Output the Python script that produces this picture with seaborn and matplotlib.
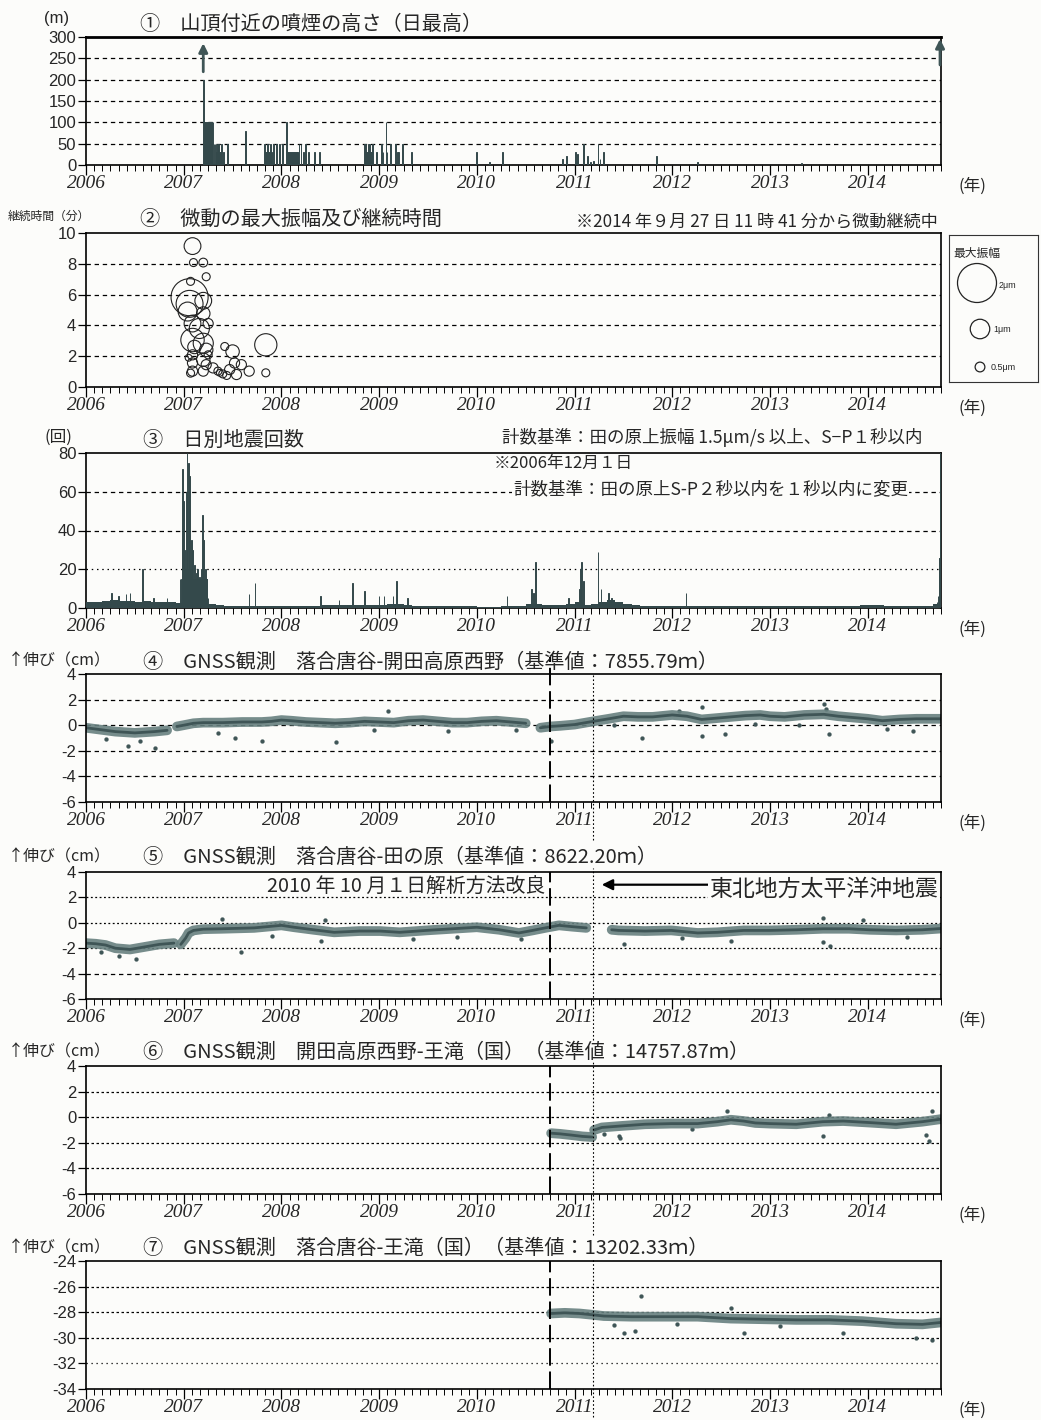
import numpy as np
import pandas as pd
import matplotlib
matplotlib.use("Agg")
import matplotlib.pyplot as plt
import seaborn as sns
from matplotlib.ticker import MultipleLocator

# ---------------------------------------------------------------- data
years = [2006, 2007, 2008, 2009, 2010, 2011, 2012, 2013, 2014]

# (1) daily max plume height (m)
smoke_t = [2007.20, 2007.21, 2007.22, 2007.23, 2007.24, 2007.25, 2007.26, 2007.27, 2007.28, 2007.29, 2007.30,
           2007.31, 2007.32, 2007.33, 2007.34, 2007.35, 2007.36, 2007.37, 2007.38, 2007.39, 2007.41, 2007.45,
           2007.63, 2007.83, 2007.84, 2007.85, 2007.86, 2007.87, 2007.88, 2007.89, 2007.90, 2007.92, 2007.95, 2007.98,
           2008.01, 2008.05, 2008.06, 2008.07, 2008.08, 2008.09, 2008.10, 2008.11, 2008.12, 2008.13, 2008.14, 2008.15,
           2008.16, 2008.17, 2008.18, 2008.20, 2008.23, 2008.25, 2008.28, 2008.34, 2008.39,
           2008.85, 2008.86, 2008.87, 2008.88, 2008.89, 2008.90, 2008.91, 2008.92, 2008.93, 2008.97,
           2009.02, 2009.04, 2009.07, 2009.08, 2009.12, 2009.17, 2009.19, 2009.20, 2009.24, 2009.33,
           2010.00, 2010.13, 2010.26,
           2010.88, 2010.92, 2011.01, 2011.03, 2011.09, 2011.13, 2011.16, 2011.19, 2011.24, 2011.26, 2011.30,
           2011.84, 2012.26, 2013.32]
smoke_h = [200, 100, 100, 100, 100, 100, 100, 100, 100, 100, 100,
           50, 50, 50, 30, 50, 50, 30, 30, 50, 30, 50,
           80, 50, 30, 30, 50, 30, 30, 50, 30, 50, 50, 50,
           50, 100, 30, 30, 30, 30, 30, 30, 30, 30, 30, 30,
           30, 30, 50, 50, 30, 50, 30, 30, 30,
           50, 50, 30, 30, 50, 50, 30, 30, 50, 30,
           50, 30, 100, 30, 50, 50, 30, 30, 50, 30,
           30, 8, 30,
           15, 20, 30, 25, 50, 20, 8, 10, 50, 15, 30,
           20, 7, 5]
smoke_over_t = [2007.20, 2014.74]   # plume above the scale

# (2) tremor: time, duration (min), max amplitude (um)
trem_t = [2007.09, 2007.10, 2007.20, 2007.23, 2007.07, 2007.06, 2007.06, 2007.20, 2007.20, 2007.04,
          2007.09, 2007.25, 2007.16, 2007.09, 2007.20, 2007.11, 2007.23, 2007.09, 2007.25, 2007.20,
          2007.09, 2007.23, 2007.09, 2007.20, 2007.30, 2007.35, 2007.37, 2007.42, 2007.50, 2007.52,
          2007.47, 2007.54, 2007.59, 2007.67, 2007.84, 2007.84, 2007.05, 2007.07, 2007.40, 2007.44]
trem_dur = [9.15, 8.08, 8.08, 7.16, 6.86, 5.83, 5.40, 5.60, 4.77, 4.90,
            4.12, 4.12, 3.80, 3.05, 2.84, 2.60, 2.41, 2.09, 2.09, 1.77,
            1.56, 1.45, 1.03, 1.03, 1.24, 1.03, 0.92, 2.63, 2.30, 1.56,
            1.13, 0.81, 1.45, 1.03, 2.74, 0.92, 1.90, 0.90, 0.85, 0.75]
trem_amp = [0.86, 0.41, 0.45, 0.41, 0.41, 1.90, 1.38, 0.86, 0.69, 0.97,
            0.86, 0.52, 1.03, 1.20, 1.03, 0.69, 0.69, 0.52, 0.41, 0.69,
            0.52, 0.52, 0.52, 0.52, 0.52, 0.41, 0.35, 0.41, 0.69, 0.52,
            0.52, 0.52, 0.52, 0.52, 1.14, 0.41, 0.35, 0.41, 0.41, 0.41]
leg_amp = [2, 1, 0.5]
leg_lbl = ["2μm", "1μm", "0.5μm"]

# (3) daily earthquake counts: monthly background level + individual peaks
eq_base = [3, 3, 3.5, 4, 3.5, 3.5, 3, 3.5, 3, 3, 3, 2.5,
           20, 15, 15, 2, 1.5, 1, 1, 1, 1, 1, 1, 1,
           1, 1, 1, 1, 1, 1.5, 1.5, 1.5, 1.5, 1.5, 1.5, 1.5,
           1.5, 2, 2, 1.5, 1, 1, 1, 1, 1, 1, 1, 1,
           0.5, 0.5, 0.5, 1, 1, 1, 2, 2, 1.5, 1.5, 1.5, 2,
           3, 1.5, 2, 3, 4, 3, 2, 1.5, 1, 1, 1, 1,
           1, 1, 1, 1, 1, 1, 1, 1, 1, 1, 1, 1,
           1, 1, 1, 1, 1, 1, 1, 1, 1, 1, 1, 1.5,
           1.5, 1.5, 1, 1, 1, 1, 1, 1, 2]
eq_t = [2006.26, 2006.33, 2006.41, 2006.45, 2006.58, 2006.69, 2006.83,
        2006.96, 2006.98, 2006.99, 2007.00, 2007.01, 2007.03, 2007.035, 2007.05, 2007.06, 2007.08, 2007.09,
        2007.11, 2007.13, 2007.14, 2007.16, 2007.18, 2007.19, 2007.20, 2007.22, 2007.23, 2007.25,
        2007.67, 2007.73, 2008.40, 2008.59, 2008.73, 2008.85, 2009.00, 2009.05, 2009.14, 2009.18, 2009.29, 2010.31,
        2010.56, 2010.58, 2010.60, 2010.94, 2011.05, 2011.06, 2011.07, 2011.09, 2011.24, 2011.27, 2011.35,
        2011.38, 2012.14,
        2014.71, 2014.72, 2014.73, 2014.735, 2014.74]
eq_n = [8, 6, 7, 8, 20, 5, 5,
        15, 15, 72, 55, 30, 60, 80, 75, 68, 35, 30,
        22, 18, 20, 16, 20, 48, 35, 20, 12, 5,
        7, 13, 6, 4, 13, 9, 6, 6, 6, 14, 5, 6,
        10, 8, 24, 5, 10, 20, 24, 14, 29, 10, 8,
        5, 8,
        3, 6, 26, 26, 85]

# (4)-(7) GNSS baseline changes (cm), NaN = data gap
g4_t = [2006.00, 2006.10, 2006.20, 2006.30, 2006.40, 2006.50, 2006.60, 2006.70, 2006.83, 2006.88,
        2006.93, 2007.00, 2007.10, 2007.20, 2007.40, 2007.60, 2007.80, 2007.90, 2008.00, 2008.10,
        2008.25, 2008.40, 2008.55, 2008.70, 2008.85, 2009.00, 2009.15, 2009.30, 2009.45, 2009.60,
        2009.75, 2009.90, 2010.05, 2010.20, 2010.35, 2010.50, 2010.57, 2010.65, 2010.75, 2010.85,
        2011.00, 2011.19, 2011.35, 2011.50, 2011.65, 2011.80, 2012.00, 2012.15, 2012.30, 2012.45,
        2012.60, 2012.75, 2012.90, 2013.00, 2013.15, 2013.35, 2013.55, 2013.70, 2013.85, 2014.00,
        2014.15, 2014.33, 2014.50, 2014.63, 2014.75]
g4_v = [-0.2, -0.3, -0.4, -0.5, -0.55, -0.6, -0.55, -0.5, -0.4, np.nan,
        -0.1, 0.0, 0.15, 0.2, 0.2, 0.25, 0.25, 0.3, 0.4, 0.35,
        0.25, 0.2, 0.15, 0.2, 0.3, 0.25, 0.2, 0.35, 0.4, 0.3,
        0.2, 0.2, 0.3, 0.35, 0.25, 0.15, np.nan, -0.2, -0.1, -0.05,
        0.05, 0.3, 0.5, 0.7, 0.65, 0.65, 0.8, 0.7, 0.45, 0.55,
        0.65, 0.75, 0.8, 0.7, 0.65, 0.8, 0.85, 0.7, 0.6, 0.5,
        0.35, 0.45, 0.5, 0.5, 0.5]
g4_out_t = [2006.20, 2006.43, 2006.71, 2007.52, 2007.80, 2008.56, 2009.09, 2010.76, 2011.69, 2012.07,
            2012.30, 2012.30, 2012.54, 2013.55, 2013.57, 2013.60, 2014.46, 2006.55, 2007.35, 2008.95,
            2009.70, 2010.40, 2011.40, 2012.85, 2013.30, 2014.20]
g4_out_v = [-1.1, -1.6, -1.75, -1.0, -1.25, -1.35, 1.1, -1.25, -1.0, 1.1,
            1.4, -0.85, -0.7, 1.65, 1.25, -0.7, -0.45, -1.2, -0.6, -0.4,
            -0.45, -0.35, 0.0, 0.1, 0.05, -0.3]

g5_t = [2006.00, 2006.10, 2006.20, 2006.30, 2006.45, 2006.60, 2006.75, 2006.90, 2006.94, 2006.97,
        2007.02, 2007.05, 2007.10, 2007.20, 2007.39, 2007.72, 2008.00, 2008.13, 2008.33, 2008.54,
        2008.80, 2009.01, 2009.21, 2009.48, 2009.75, 2010.00, 2010.23, 2010.43, 2010.57, 2010.70,
        2010.84, 2010.97, 2011.12, 2011.20, 2011.38, 2011.45, 2011.72, 2011.99, 2012.26, 2012.46,
        2012.73, 2013.00, 2013.27, 2013.54, 2013.81, 2014.02, 2014.29, 2014.56, 2014.75]
g5_v = [-1.6, -1.65, -1.75, -2.0, -2.1, -1.9, -1.7, -1.6, np.nan, -1.7,
        -1.2, -0.8, -0.6, -0.5, -0.47, -0.4, -0.2, -0.35, -0.55, -0.75,
        -0.65, -0.65, -0.75, -0.6, -0.47, -0.35, -0.55, -0.8, -0.6, -0.4,
        -0.2, -0.3, -0.4, np.nan, -0.55, -0.6, -0.65, -0.6, -0.8, -0.75,
        -0.6, -0.6, -0.55, -0.47, -0.47, -0.55, -0.6, -0.55, -0.45]
g5_out_t = [2006.34, 2006.51, 2007.39, 2007.59, 2008.40, 2008.45, 2009.35, 2011.51, 2012.60, 2013.54,
            2013.61, 2013.54, 2013.95, 2006.15, 2007.90, 2009.80, 2010.45, 2012.10, 2014.40]
g5_out_v = [-2.6, -2.85, 0.3, -2.3, -1.4, 0.25, -1.25, -1.65, -1.4, -1.5,
            -1.8, 0.4, 0.2, -2.3, -1.0, -1.1, -1.3, -1.2, -1.1]

g6_t = [2010.76, 2010.85, 2010.97, 2011.08, 2011.18, 2011.19, 2011.20, 2011.28, 2011.45, 2011.72,
        2011.99, 2012.26, 2012.46, 2012.60, 2012.73, 2012.85, 2013.00, 2013.27, 2013.54, 2013.75,
        2014.02, 2014.29, 2014.56, 2014.75]
g6_v = [-1.25, -1.3, -1.4, -1.5, -1.55, np.nan, -1.0, -0.8, -0.7, -0.55,
        -0.5, -0.5, -0.35, -0.2, -0.3, -0.45, -0.5, -0.55, -0.35, -0.3,
        -0.42, -0.55, -0.35, -0.15]
g6_out_t = [2011.45, 2011.47, 2012.56, 2013.54, 2014.60, 2014.63, 2014.66, 2011.30, 2012.20, 2013.60]
g6_out_v = [-1.5, -1.65, 0.45, -1.5, -1.4, -1.85, 0.45, -1.3, -0.95, 0.2]

g7_t = [2010.76, 2010.90, 2011.05, 2011.18, 2011.30, 2011.58, 2011.92, 2012.26, 2012.60, 2012.94,
        2013.27, 2013.61, 2013.95, 2014.29, 2014.56, 2014.75]
g7_v = [-28.1, -28.05, -28.1, -28.2, -28.3, -28.35, -28.35, -28.35, -28.5, -28.55,
        -28.6, -28.6, -28.7, -28.9, -28.95, -28.8]
g7_out_t = [2011.68, 2011.51, 2011.62, 2012.60, 2012.73, 2013.75, 2014.49, 2014.66, 2011.40, 2012.05, 2013.10]
g7_out_v = [-26.75, -29.6, -29.5, -27.7, -29.6, -29.6, -30.0, -30.15, -29.0, -28.9, -29.1]

analysis_change = 2010.75   # 2010-10-01
tohoku_eq = 2011.19         # 2011-03-11

# ---------------------------------------------------------------- style
sns.set_theme(style="ticks")
plt.rcParams["font.family"] = ["Liberation Sans", "Noto Sans CJK JP", "DejaVu Sans"]
plt.rcParams["axes.unicode_minus"] = False
JP = ["Noto Sans CJK JP", "DejaVu Sans"]
paper = "#fcfcfa"
dark = "#34494b"
gcol = "#67807f"

W, H = 1041, 1420
fig = plt.figure(figsize=(W / 100, H / 100), dpi=100, facecolor=paper)


def px_axes(top, bottom, left=86, right=941):
    return fig.add_axes([left / W, 1 - bottom / H, (right - left) / W, (bottom - top) / H])


def ftext(x, y, s, **kw):
    kw.setdefault("family", JP)
    kw.setdefault("va", "center")
    fig.text(x / W, 1 - y / H, s, **kw)


def style(ax, ylo, yhi, ystep, bottom_px):
    ax.set_facecolor(paper)
    ax.set_xlim(2006.0, 2014.75)
    ax.set_ylim(ylo, yhi)
    ax.set_xticks(years)
    ax.set_xticklabels([str(y) for y in years], family="Liberation Serif",
                       style="italic", fontsize=14)
    ax.xaxis.set_minor_locator(MultipleLocator(1 / 12))
    ax.set_yticks(np.arange(ylo, yhi + 0.001, ystep))
    ax.tick_params(axis="x", which="major", length=7, width=0.9, pad=0, color="black")
    ax.tick_params(axis="x", which="minor", length=4, width=0.7, color="black")
    ax.tick_params(axis="y", length=6, width=0.9, labelsize=12, pad=1, color="black")
    for s in ax.spines.values():
        s.set_linewidth(1.2)
        s.set_color("black")
    ftext(972, bottom_px + 21, "(年)", ha="center", fontsize=12)


def hgrid(ax, vals, ls=(0, (3.5, 3))):
    for v in vals:
        ax.axhline(v, color="black", lw=0.9, ls=ls, zorder=1)


def seg_frame(t, v):
    df = pd.DataFrame({"t": t, "v": v})
    df["seg"] = df["v"].isna().cumsum()
    return df.dropna()


def gnss(ax, t, v, ot, ov):
    df = seg_frame(t, v)
    sns.lineplot(data=df, x="t", y="v", units="seg", estimator=None, color=gcol,
                 lw=7, alpha=0.9, ax=ax, legend=False)
    sns.lineplot(data=df, x="t", y="v", units="seg", estimator=None, color="#3f5556",
                 lw=2, ax=ax, legend=False)
    sns.scatterplot(x=ot, y=ov, s=8, color="#3f5556", edgecolor=None, ax=ax)
    ax.set_xlabel("")
    ax.set_ylabel("")


def events(ax, dash_top=1.0, dot_top=1.03, dot_bot=-0.3):
    ax.axvline(analysis_change, ymin=0, ymax=dash_top, color="black", lw=1.4,
               ls=(0, (9, 3)), clip_on=False, zorder=5)
    ax.axvline(tohoku_eq, ymin=dot_bot, ymax=dot_top, color="black", lw=0.8,
               ls=(0, (1.5, 2)), clip_on=False, zorder=5)


TITLE = 14.5

# ---------------------------------------------------------------- (1)
ax1 = px_axes(37, 165)
style(ax1, 0, 300, 50, 165)
hgrid(ax1, [50, 100, 150, 200, 250])
ax1.bar(smoke_t, smoke_h, width=0.009, color=dark, edgecolor=dark, lw=0.7, zorder=3)
for t in smoke_over_t:
    base = 212 if t < 2010 else 228
    ax1.annotate("", xy=(t, 292 if t < 2010 else 302), xytext=(t, base),
                 arrowprops=dict(arrowstyle="-|>", color="#3f5556", lw=2, mutation_scale=13),
                 annotation_clip=False, zorder=6)
ax1.spines["top"].set_linewidth(2)
ftext(57, 18, "(m)", ha="center", fontsize=12, family=["Liberation Sans"])
ftext(140, 25, "①　山頂付近の噴煙の高さ（日最高）", fontsize=TITLE)

# ---------------------------------------------------------------- (2)
ax2 = px_axes(233, 387)
style(ax2, 0, 10, 2, 387)
hgrid(ax2, [2, 4, 6, 8])
ax2.scatter(trem_t, trem_dur, s=(14.04 * np.array(trem_amp)) ** 2, facecolors="none",
            edgecolors="#222222", linewidths=0.8, zorder=4, clip_on=False)
ftext(8, 216, "継続時間（分）", ha="left", fontsize=8.5)
ftext(140, 219, "②　微動の最大振幅及び継続時間", fontsize=TITLE)
ftext(938, 221, "※2014 年９月 27 日 11 時 41 分から微動継続中", ha="right", fontsize=12.3)

lax = px_axes(235, 382, 949, 1038)
lax.set_facecolor(paper)
lax.set_xlim(0, 89)
lax.set_ylim(147, 0)
lax.set_xticks([])
lax.set_yticks([])
for s in lax.spines.values():
    s.set_linewidth(0.8)
    s.set_color("#333333")
lax.scatter([28, 31, 31], [48, 94, 132], s=(14.04 * np.array(leg_amp)) ** 2,
            facecolors="none", edgecolors="#222222", linewidths=0.9)
lax.text(4, 18, "最大振幅", family=JP, fontsize=8.5, va="center")
for yy, xx, lb in zip([50, 95, 133], [50, 44, 42], leg_lbl):
    lax.text(xx, yy, lb, fontsize=6.5, va="center", family=["Liberation Sans"])

# ---------------------------------------------------------------- (3)
ax3 = px_axes(453, 608)
style(ax3, 0, 80, 20, 608)
hgrid(ax3, [40, 60])
hgrid(ax3, [20], ls=(0, (1.2, 3)))
months = pd.date_range("2006-01-01", periods=len(eq_base), freq="MS")
month_mid = months.year + (months.month - 0.5) / 12
ax3.bar(month_mid, eq_base, width=1 / 12, color=dark, lw=0, zorder=3)
ax3.bar(eq_t, eq_n, width=0.006, color=dark, edgecolor=dark, lw=0.7, zorder=3)
ftext(58, 437, "(回)", ha="center", fontsize=12)
ftext(143, 440, "③　日別地震回数", fontsize=TITLE)
ftext(922, 437, "計数基準：田の原上振幅 1.5μm/s 以上、S−P１秒以内", ha="right", fontsize=12.6)
ax3.text(2010.17, 74.5, "※2006年12月１日", family=JP, fontsize=12, va="center", zorder=6)
ax3.text(2010.37, 61.5, "計数基準：田の原上S-P２秒以内を１秒以内に変更", family=JP, fontsize=12.6,
         va="center", zorder=6,
         bbox=dict(facecolor=paper, edgecolor="none", pad=1))

# ---------------------------------------------------------------- (4)
ax4 = px_axes(674, 802)
style(ax4, -6, 4, 2, 802)
hgrid(ax4, [2, 0, -2, -4])
gnss(ax4, g4_t, g4_v, g4_out_t, g4_out_v)
events(ax4, dash_top=1.13, dot_top=1.0, dot_bot=-0.3)
ftext(8, 661, "↑伸び（cm）", ha="left", fontsize=11.5)
ftext(143, 662, "④　GNSS観測　落合唐谷-開田高原西野（基準値：7855.79ｍ）", fontsize=TITLE)

# ---------------------------------------------------------------- (5)
ax5 = px_axes(872, 999)
style(ax5, -6, 4, 2, 999)
hgrid(ax5, [2, 0, -2], ls=(0, (1.5, 2)))
hgrid(ax5, [-4])
gnss(ax5, g5_t, g5_v, g5_out_t, g5_out_v)
events(ax5, dash_top=1.0, dot_top=1.03, dot_bot=-0.32)
ax5.text(analysis_change - 0.05, 2.8, "2010 年 10 月１日解析方法改良", family=JP, fontsize=14.3,
         ha="right", va="center", zorder=6)
ax5.annotate("", xy=(tohoku_eq + 0.06, 3.0), xytext=(2012.4, 3.0),
             arrowprops=dict(arrowstyle="-|>", color="black", lw=1.6, mutation_scale=16), zorder=6)
ax5.text(2012.38, 2.6, "東北地方太平洋沖地震", family=JP, fontsize=16.5, ha="left", va="center",
         zorder=6, bbox=dict(facecolor=paper, edgecolor="none", pad=1))
ftext(8, 857, "↑伸び（cm）", ha="left", fontsize=11.5)
ftext(143, 857, "⑤　GNSS観測　落合唐谷-田の原（基準値：8622.20ｍ）", fontsize=TITLE)

# ---------------------------------------------------------------- (6)
ax6 = px_axes(1066, 1194)
style(ax6, -6, 4, 2, 1194)
hgrid(ax6, [2, 0, -2, -4], ls=(0, (2, 2)))
gnss(ax6, g6_t, g6_v, g6_out_t, g6_out_v)
events(ax6, dash_top=1.0, dot_top=1.03, dot_bot=-0.32)
ftext(8, 1052, "↑伸び（cm）", ha="left", fontsize=11.5)
ftext(143, 1052, "⑥　GNSS観測　開田高原西野-王滝（国）（基準値：14757.87ｍ）", fontsize=TITLE)

# ---------------------------------------------------------------- (7)
ax7 = px_axes(1261, 1389)
style(ax7, -34, -24, 2, 1389)
hgrid(ax7, [-26, -28, -30], ls=(0, (2, 2)))
hgrid(ax7, [-32], ls=(0, (1, 3)))
gnss(ax7, g7_t, g7_v, g7_out_t, g7_out_v)
events(ax7, dash_top=1.0, dot_top=1.02, dot_bot=-0.22)
ftext(8, 1248, "↑伸び（cm）", ha="left", fontsize=11.5)
ftext(143, 1248, "⑦　GNSS観測　落合唐谷-王滝（国）（基準値：13202.33ｍ）", fontsize=TITLE)

fig.savefig("out.png", dpi=100, facecolor=paper)
